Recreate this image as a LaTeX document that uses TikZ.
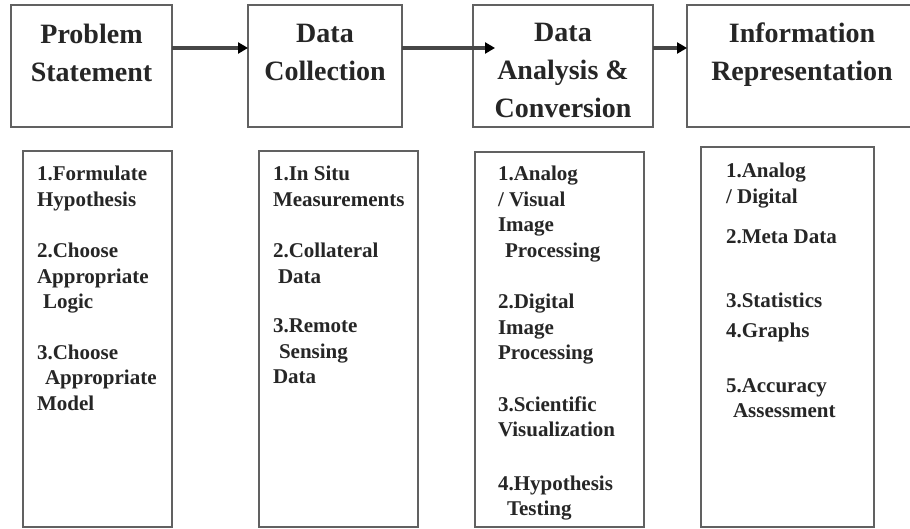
\documentclass[tikz,border=0pt]{standalone}
\usepackage{fontspec}
\setmainfont{Liberation Serif}
\usetikzlibrary{positioning, arrows.meta}

\begin{document}
\begin{tikzpicture}[
    x=1pt, y=-1pt,
    every node/.style={inner sep=0pt, outer sep=0pt},
    %% stage box on the top row
    stage/.style={
        draw=black!62, line width=1.6pt, fill=white,
        minimum height=122pt
    },
    %% stage title, set near the top of its box
    title/.style={
        align=center, text=black!85,
        font=\bfseries\fontsize{28}{38}\selectfont
    },
    %% tall box holding the steps of one stage
    list/.style={
        draw=black!62, line width=1.6pt, fill=white,
        anchor=north west
    },
    %% numbered steps inside a list box
    items/.style={
        align=left, text=black!85,
        font=\bfseries\fontsize{21}{25.5}\selectfont
    },
    %% stage to stage flow
    flow/.style={-{Triangle[length=10pt, width=11pt, color=black]},
        line width=3.5pt, draw=black!72}
]
\useasboundingbox (0,0) rectangle (910,529);
\clip (0,0) rectangle (910,529);

%%-------------------------------------------------------------- stages
\node[stage, minimum width=161pt] at (91.5,66) (prob) {};
\node[stage, minimum width=154pt, right=76pt of prob] (coll) {};
\node[stage, minimum width=180pt, right=71pt of coll] (dac)  {};
\node[stage, minimum width=230pt, right=34pt of dac]  (info) {};

\node[title, below=19pt of prob.north] (probTxt) {Problem\\Statement};
\node[title, below=19pt of coll.north] (collTxt) {Data\\Collection};
\node[title, below=18pt of dac.north]  (dacTxt)  {Data\\Analysis \&\\Conversion};
\node[title, below=18pt of info.north] (infoTxt) {Information\\Representation};

%%-------------------------------------------------------------- lists
\node[list, minimum width=149pt, minimum height=376pt] at (23,151)  (steps)   {};
\node[list, minimum width=159pt, minimum height=376pt] at (259,151) (sources) {};
\node[list, minimum width=169pt, minimum height=375pt] at (475,152) (methods) {};
\node[list, minimum width=173pt, minimum height=380pt] at (701,147) (outputs) {};

\node[items, below right=15pt and 14pt of steps.north west] (stepsTxt)
    {1.Formulate\\Hypothesis\\[26pt]2.Choose\\Appropriate\\\hspace*{6pt}Logic\\[25pt]%
     3.Choose\\\hspace*{8pt}Appropriate\\Model};
\node[items, below right=15pt and 14pt of sources.north west] (sourcesTxt)
    {1.In Situ\\Measurements\\[26pt]2.Collateral\\\hspace*{5pt}Data\\[24pt]%
     3.Remote\\\hspace*{6pt}Sensing\\Data};
\node[items, below right=14pt and 23pt of methods.north west] (methodsTxt)
    {1.Analog\\/ Visual\\Image\\\hspace*{7pt}Processing\\[26pt]%
     2.Digital\\Image\\Processing\\[26pt]3.Scientific\\Visualization\\[28pt]%
     4.Hypothesis\\\hspace*{9pt}Testing};
\node[items, below right=16pt and 25pt of outputs.north west] (outputsTxt)
    {1.Analog\\/ Digital\\[14.5pt]2.Meta Data\\[38.5pt]3.Statistics\\[4.5pt]%
     4.Graphs\\[29.5pt]5.Accuracy\\\hspace*{7pt}Assessment};

%%-------------------------------------------------------------- edges
% the second arrow runs on into the analysis box
\coordinate (dacIn) at ([xshift=22pt, yshift=-43pt]dac.north west);

\draw[flow] ([yshift=-43pt]prob.north east) -- ([yshift=-43pt]coll.north west);
\draw[flow] ([yshift=-43pt]coll.north east) -- (dacIn);
\draw[flow] ([yshift=-43pt]dac.north east)  -- ([yshift=-43pt]info.north west);

\end{tikzpicture}
\end{document}
